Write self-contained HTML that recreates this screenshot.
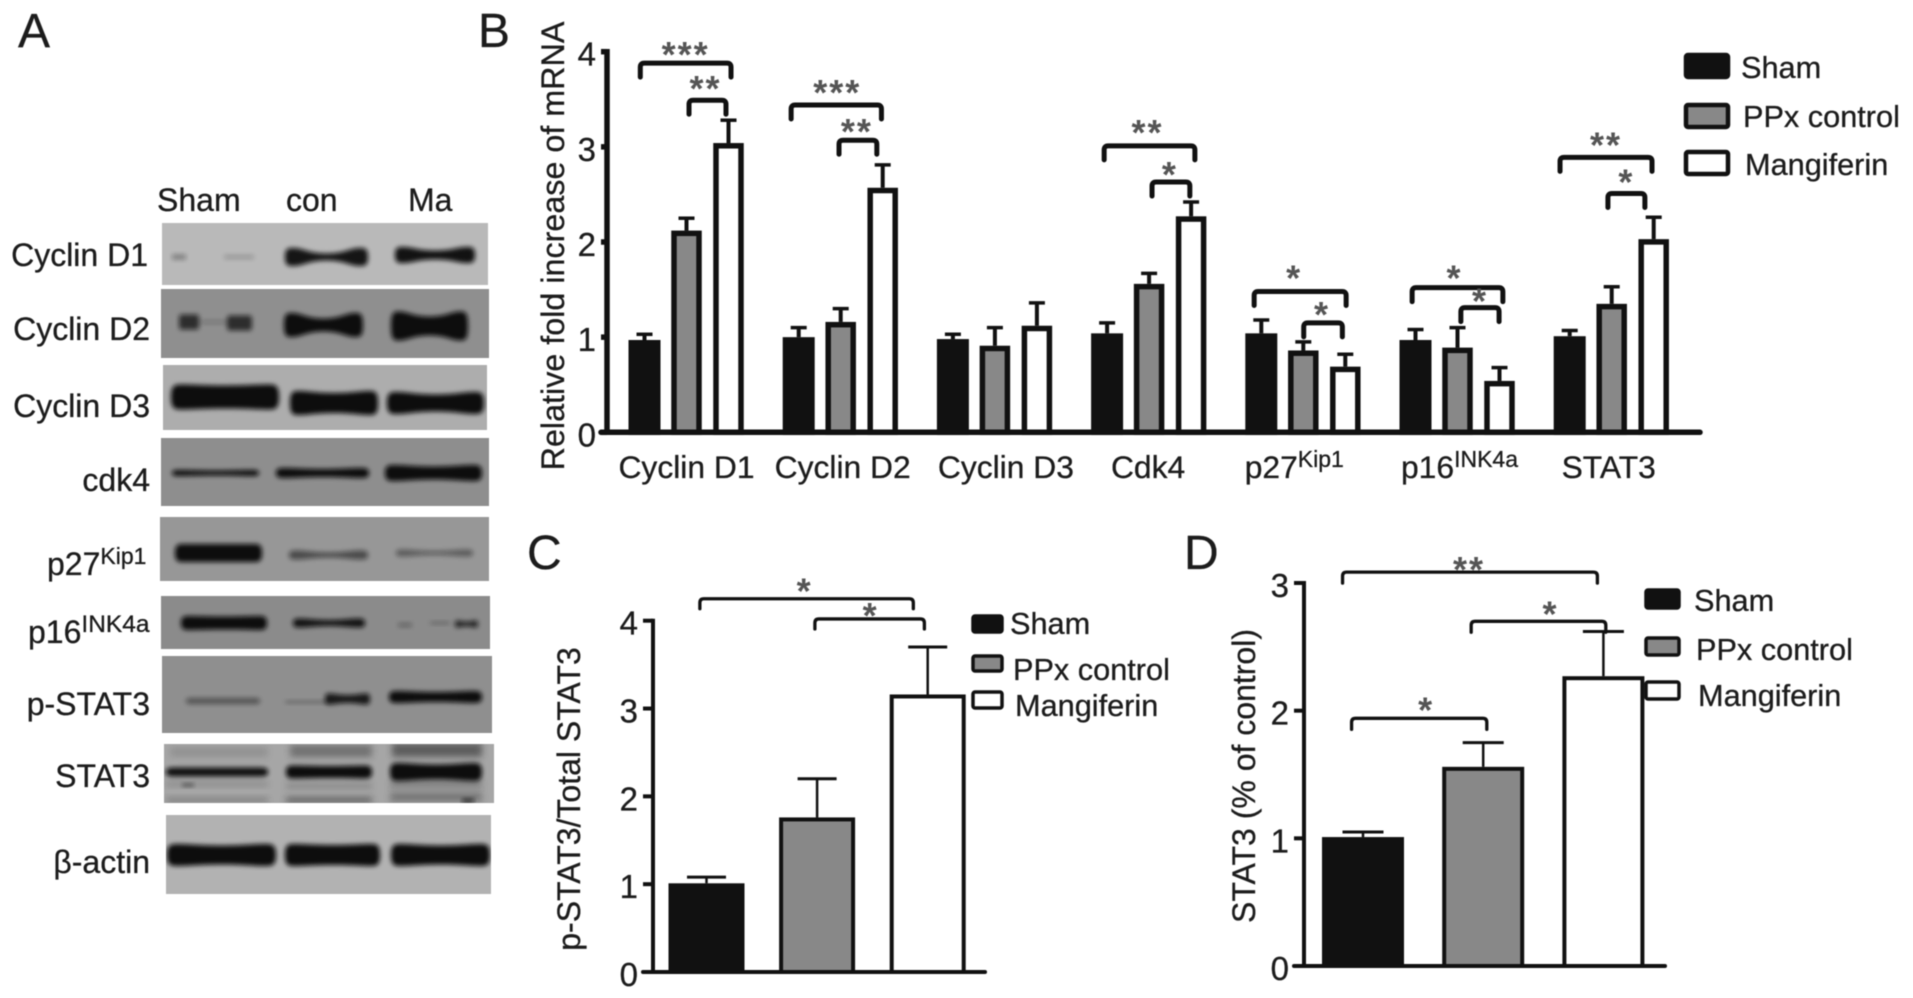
<!DOCTYPE html>
<html lang="en">
<head>
<meta charset="utf-8">
<title>Mangiferin western blot and bar chart figure</title>
<style>
html,body{margin:0;padding:0;background:#fff;width:1913px;height:998px;overflow:hidden}
svg{display:block;filter:blur(0.65px)}
text{font-family:"Liberation Sans",Arial,sans-serif;fill:#1c1c1c;stroke:#1c1c1c;stroke-width:.3px}
.panel{font-size:48px}
.lab{font-size:32px}
.leg{font-size:30.7px}
.tick{font-size:33px;text-anchor:end}
.cat{font-size:31.8px;text-anchor:middle}
.star{font-size:36px;font-weight:bold;letter-spacing:2px;fill:#555;stroke:none;text-anchor:middle}
</style>
</head>
<body>
<svg id="fig" xmlns="http://www.w3.org/2000/svg" width="1913" height="998" viewBox="0 0 1913 998">
<defs>
<filter id="bandBlur" x="-20%" y="-80%" width="140%" height="260%"><feGaussianBlur stdDeviation="2.4"/></filter>
<filter id="smearBlur" x="-20%" y="-80%" width="140%" height="260%"><feGaussianBlur stdDeviation="3.5"/></filter>
</defs>
<rect x="0" y="0" width="1913" height="998" fill="#fff"/>

<text class="panel" x="18" y="47">A</text>
<text class="panel" x="478" y="47">B</text>
<text class="panel" x="527" y="569">C</text>
<text class="panel" x="1184" y="569">D</text>

<g id="blots"></g>

<text class="lab" x="157" y="211">Sham</text>
<text class="lab" x="286" y="211">con</text>
<text class="lab" x="408" y="211">Ma</text>
<text class="lab" x="148" y="266" text-anchor="end">Cyclin D1</text>
<text class="lab" x="150" y="340" text-anchor="end">Cyclin D2</text>
<text class="lab" x="150" y="417" text-anchor="end">Cyclin D3</text>
<text class="lab" x="150" y="491" text-anchor="end">cdk4</text>
<text class="lab" x="47" y="575">p27<tspan font-size="23" dy="-11">Kip1</tspan></text>
<text class="lab" x="28" y="643">p16<tspan font-size="24.5" dy="-11">INK4a</tspan></text>
<text class="lab" x="150" y="715" text-anchor="end">p-STAT3</text>
<text class="lab" x="150" y="787" text-anchor="end">STAT3</text>
<text class="lab" x="150" y="873" text-anchor="end">β-actin</text>

<text class="lab" text-anchor="middle" transform="translate(564,246) rotate(-90)" style="font-size:32.3px">Relative fold increase of mRNA</text>
<text class="lab" text-anchor="middle" transform="translate(580,799) rotate(-90)" style="font-size:32px">p-STAT3/Total STAT3</text>
<text class="lab" text-anchor="middle" transform="translate(1255,776) rotate(-90)" style="font-size:32px">STAT3 (% of control)</text>

<g id="chartB"></g>
<g id="chartC"></g>
<g id="chartD"></g>

<g>
<rect x="1686" y="55" width="42" height="22" rx="2" fill="#111" stroke="#111" stroke-width="4.5"/>
<text class="leg" x="1741" y="78">Sham</text>
<rect x="1686" y="105" width="42" height="22" rx="2" fill="#888" stroke="#111" stroke-width="4.5"/>
<text class="leg" x="1743" y="127">PPx control</text>
<rect x="1686" y="152" width="42" height="22" rx="2" fill="#fff" stroke="#111" stroke-width="4.5"/>
<text class="leg" x="1745" y="175">Mangiferin</text>
</g>
<g>
<rect x="973" y="616" width="29" height="16" rx="2" fill="#111" stroke="#111" stroke-width="3.5"/>
<text class="leg" x="1010" y="634">Sham</text>
<rect x="973" y="656" width="29" height="15" rx="2" fill="#888" stroke="#111" stroke-width="3.5"/>
<text class="leg" x="1013" y="680">PPx control</text>
<rect x="973" y="692" width="29" height="16" rx="2" fill="#fff" stroke="#111" stroke-width="3.5"/>
<text class="leg" x="1015" y="716">Mangiferin</text>
</g>
<g>
<rect x="1646" y="590" width="33" height="18" rx="2" fill="#111" stroke="#111" stroke-width="3.5"/>
<text class="leg" x="1694" y="611">Sham</text>
<rect x="1646" y="638" width="33" height="17" rx="2" fill="#888" stroke="#111" stroke-width="3.5"/>
<text class="leg" x="1696" y="660">PPx control</text>
<rect x="1646" y="682" width="33" height="17" rx="2" fill="#fff" stroke="#111" stroke-width="3.5"/>
<text class="leg" x="1698" y="706">Mangiferin</text>
</g>
</svg>

<script>
// ---------- Chart data ----------
const seriesNames = ['sham', 'ppx-control', 'mangiferin'];
const categoriesB = ['Cyclin D1', 'Cyclin D2', 'Cyclin D3', 'Cdk4', 'p27', 'p16', 'STAT3'];
const categorySupB = ['', '', '', '', 'Kip1', 'INK4a', ''];
const shamB = [0.97, 1.0, 0.98, 1.04, 1.04, 0.97, 1.01];
const ppxB = [2.12, 1.16, 0.91, 1.56, 0.86, 0.89, 1.35];
const mangB = [3.04, 2.57, 1.12, 2.27, 0.69, 0.54, 2.03];
const shamErrB = [0.06, 0.1, 0.05, 0.11, 0.14, 0.11, 0.06];
const ppxErrB = [0.13, 0.14, 0.19, 0.11, 0.09, 0.21, 0.18];
const mangErrB = [0.24, 0.24, 0.24, 0.15, 0.13, 0.14, 0.23];
const ticksB = [0, 1, 2, 3, 4];

// Significance brackets: category index, bar units from/to, height in axis units, stars
const bracketGroupB = [0, 0, 1, 1, 3, 3, 4, 4, 5, 5, 6, 6];
const bracketFromB = [-0.1, 1.06, -0.18, 0.96, -0.07, 1.07, -0.17, 1.01, -0.08, 1.08, -0.23, 0.91];
const bracketToB = [2.06, 1.94, 1.97, 1.86, 2.09, 1.97, 2.02, 1.93, 2.08, 1.99, 1.96, 1.79];
const bracketLevelB = [3.88, 3.49, 3.44, 3.07, 3.01, 2.63, 1.48, 1.15, 1.52, 1.31, 2.89, 2.51];
const bracketStarsB = ['***', '**', '***', '**', '**', '*', '*', '*', '*', '*', '**', '*'];

const valuesC = [1.01, 1.76, 3.16];
const errorsC = [0.07, 0.44, 0.54];
const ticksC = [0, 1, 2, 3, 4];
const bracketFromC = [-0.06, 0.98];
const bracketToC = [1.87, 1.97];
const bracketLevelC = [4.25, 4.02];
const bracketStarsC = ['*', '*'];

const valuesD = [1.01, 1.56, 2.27];
const errorsD = [0.04, 0.19, 0.35];
const ticksD = [0, 1, 2, 3];
const bracketFromD = [-0.17, 0.9, -0.095];
const bracketToD = [1.95, 2.02, 1.03];
const bracketLevelD = [3.085, 2.7, 1.94];
const bracketStarsD = ['**', '*', '*'];

// ---------- Helpers ----------
const NS = 'http://www.w3.org/2000/svg';
function make(tag, attrs, parent) {
  const el = document.createElementNS(NS, tag);
  for (const k in attrs) el.setAttribute(k, attrs[k]);
  parent.appendChild(el);
  return el;
}
function linearY(y0, yTop, max) {
  return function (v) { return y0 - v * (y0 - yTop) / max; };
}
const fills = ['#111', '#888', '#fff'];

function drawBar(g, cx, outerW, v, err, yScale, y0, sw, capW, stemW, capH, idx, name) {
  const top = yScale(v);
  const stem = make('line', { x1: cx, x2: cx, y1: top, y2: yScale(v + err), stroke: '#111', 'stroke-width': stemW }, g);
  
  
  const cap = make('line', { x1: cx - capW / 2, x2: cx + capW / 2, y1: yScale(v + err), y2: yScale(v + err), stroke: '#111', 'stroke-width': capH }, g);
  
  
  const bar = make('rect', { x: cx - outerW / 2 + sw / 2, y: top + sw / 2, width: outerW - sw, height: Math.max(0, y0 - top - sw / 2), fill: fills[idx], stroke: '#111', 'stroke-width': sw }, g);
  
  
}
function drawBracket(g, x1, x2, yt, drop, sw, stars, gap, shift, name) {
  const r = 4;
  const p = make('path', {
    d: 'M' + x1 + ',' + (yt + drop) + ' L' + x1 + ',' + (yt + r) + ' Q' + x1 + ',' + yt + ' ' + (x1 + r) + ',' + yt +
       ' L' + (x2 - r) + ',' + yt + ' Q' + x2 + ',' + yt + ' ' + x2 + ',' + (yt + r) + ' L' + x2 + ',' + (yt + drop),
    fill: 'none', stroke: '#111', 'stroke-width': sw, 'stroke-linecap': 'round'
  }, g);
  
  
  const t = make('text', { x: (x1 + x2) / 2 + shift, y: yt - gap + 17, class: 'star' }, g);
  t.textContent = stars;
  
  
}
function drawAxes(g, axisX, y0, yTop, xStart, xEnd, sw, tickLen, ticks, yScale) {
  const ya = make('line', { x1: axisX, x2: axisX, y1: yTop - sw / 2, y2: y0, stroke: '#111', 'stroke-width': sw }, g);
  
  
  const xa = make('line', { x1: xStart, x2: xEnd, y1: y0, y2: y0, stroke: '#111', 'stroke-width': sw, 'stroke-linecap': 'round' }, g);
  
  
  ticks.forEach(function (tv) {
    const y = yScale(tv);
    const tm = make('line', { x1: axisX - tickLen, x2: axisX, y1: y, y2: y, stroke: '#111', 'stroke-width': sw }, g);
    
    
    const tl = make('text', { x: axisX - tickLen - 5, y: y + 14, class: 'tick' }, g);
    tl.textContent = tv;
    
    
  });
}

// ---------- Chart B ----------
(function () {
  const g = document.getElementById('chartB');
  const y0 = 432.3, yTop = 51.7;
  const yB = linearY(y0, yTop, 4);
  const groupX = function (i) { return 628.5 + 154.2 * i; };
  const barX = function (i, u) { return groupX(i) + 16 + 42 * u; };
  const starGap = [13, 16, 17, 13, 18, 12, 18, 13, 14, 11, 17, 16];
  const starShift = [0, -2, 1, -1, -2, -1, -6, -1, -3, 0, 0, 0];
  const labelShift = [0, 2, 11, -1, -9, 2, -3];
  const valueSets = [shamB, ppxB, mangB];
  const errorSets = [shamErrB, ppxErrB, mangErrB];
  const widths = [32, 30.5, 30.5];
  categoriesB.forEach(function (cat, i) {
    valueSets.forEach(function (vals, s) {
      drawBar(g, barX(i, s), widths[s], vals[i], errorSets[s][i], yB, y0, 5.5, 16, 4, 3.5, s, cat.toLowerCase().replace(' ', '-') + '-' + seriesNames[s]);
    });
    const t = make('text', { x: groupX(i) + 58 + labelShift[i], y: 478, class: 'cat' }, g);
    t.textContent = cat;
    
    
    if (categorySupB[i]) {
      const sup = make('tspan', { dy: -11, 'font-size': 23 }, t);
      sup.textContent = categorySupB[i];
    }
  });
  drawAxes(g, 607, y0, yTop, 601, 1700, 5.5, 6, ticksB, yB);
  bracketGroupB.forEach(function (grp, k) {
    drawBracket(g, barX(grp, bracketFromB[k]), barX(grp, bracketToB[k]), yB(bracketLevelB[k]), 14, 5, bracketStarsB[k], starGap[k], starShift[k], 'b-' + k);
  });
})();

// ---------- Chart C ----------
(function () {
  const g = document.getElementById('chartC');
  const y0 = 972, yTop = 620.7;
  const yC = linearY(y0, yTop, 4);
  const barX = function (u) { return 706.5 + 110.6 * u; };
  const starGap = [12, 8];
  const starShift = [-2, 1];
  valuesC.forEach(function (v, s) {
    drawBar(g, barX(s), 76, v, errorsC[s], yC, y0, 4, 39, 2.5, 3, s, 'c-' + seriesNames[s]);
  });
  drawAxes(g, 653, y0, yTop, 643, 985, 4, 10, ticksC, yC);
  bracketLevelC.forEach(function (lv, k) {
    drawBracket(g, barX(bracketFromC[k]), barX(bracketToC[k]), yC(lv), 10, 3.3, bracketStarsC[k], starGap[k], starShift[k], 'c-' + k);
  });
})();

// ---------- Chart D ----------
(function () {
  const g = document.getElementById('chartD');
  const y0 = 966, yTop = 583;
  const yD = linearY(y0, yTop, 3);
  const barX = function (u) { return 1363 + 120.2 * u; };
  const starGap = [7, 12, 13];
  const starShift = [-1, 12, 7];
  valuesD.forEach(function (v, s) {
    drawBar(g, barX(s), 82, v, errorsD[s], yD, y0, 4, 41, 2.5, 3, s, 'd-' + seriesNames[s]);
  });
  drawAxes(g, 1304, y0, yTop, 1294, 1665, 4, 10, ticksD, yD);
  bracketLevelD.forEach(function (lv, k) {
    drawBracket(g, barX(bracketFromD[k]), barX(bracketToD[k]), yD(lv), 11, 3.3, bracketStarsD[k], starGap[k], starShift[k], 'd-' + k);
  });
})();

// ---------- Panel A: western blot strips ----------
(function () {
  const root = document.getElementById('blots');
  const strips = [
    { name: 'cyclin-d1', x: 162, y: 223, w: 326, h: 62, bg: '#b9b9b9', bands: [[172,186,257,5,5,.35],[224,254,257,4,4,.2],[285,368,257,18,7,.95],[395,475,255,16,9,.97]] },
    { name: 'cyclin-d2', x: 161, y: 289, w: 328, h: 69, bg: '#8f8f8f', bands: [[179,199,322,15,15,.75],[227,252,323,15,15,.75],[199,228,322,4,4,.18],[284,363,325,24,13,1],[391,468,326,29,19,1]] },
    { name: 'cyclin-d3', x: 163, y: 365, w: 324, h: 65, bg: '#adadad', bands: [[171,279,397,25,23,1],[290,378,403,24,20,1],[387,484,403,22,17,1]] },
    { name: 'cdk4', x: 161, y: 438, w: 328, h: 68, bg: '#8e8e8e', bands: [[172,259,473,6,5,1],[276,369,473,10,8,1],[385,482,473,16,13,1]] },
    { name: 'p27', x: 160, y: 517, w: 329, h: 64, bg: '#979797', bands: [[175,262,553,18,18,1],[289,368,555,9,5,.55],[396,473,553,7,4,.42]] },
    { name: 'p16', x: 161, y: 596, w: 329, h: 53, bg: '#8b8b8b', bands: [[181,267,623,14,13,1],[293,365,623,9,6,.95],[398,412,625,4,4,.3],[430,450,623,3,3,.25],[455,478,624,7,5,.8]] },
    { name: 'p-stat3', x: 162, y: 656, w: 330, h: 77, bg: '#8f8f8f', bands: [[186,260,701,6,6,.45],[285,330,702,3,3,.28],[325,370,699,11,8,.9],[389,482,697,12,10,1]] },
    { name: 'stat3', x: 164, y: 744, w: 330, h: 59, bg: '#a6a6a6', smears: [[170,268,752,10,.15],[290,372,751,12,.4],[392,482,750,14,.55],[166,268,800,5,.3],[286,372,800,6,.5],[390,482,797,10,.35],[166,268,784,4,.25],[286,372,786,5,.25],[390,482,784,6,.35]], bands: [[166,268,772,9,9,.97],[286,372,772,13,12,1],[390,482,772,18,15,1],[182,194,785,3,3,.5],[462,474,801,4,4,.8]] },
    { name: 'beta-actin', x: 166, y: 815, w: 325, h: 79, bg: '#b2b2b2', bands: [[167,276,855,22,19,1],[285,380,855,22,20,1],[391,490,855,22,19,1]] }
  ];
  function bandPath(x1, x2, y, he, hm) {
    const a = he / 2, b = hm / 2, L = x2 - x1;
    return 'M' + x1 + ',' + y +
      ' C' + x1 + ',' + (y - a) + ' ' + (x1 + .04 * L) + ',' + (y - a) + ' ' + (x1 + .1 * L) + ',' + (y - a) +
      ' C' + (x1 + .22 * L) + ',' + (y - a) + ' ' + (x1 + .28 * L) + ',' + (y - b) + ' ' + (x1 + .5 * L) + ',' + (y - b) +
      ' C' + (x1 + .72 * L) + ',' + (y - b) + ' ' + (x1 + .78 * L) + ',' + (y - a) + ' ' + (x1 + .9 * L) + ',' + (y - a) +
      ' C' + (x1 + .96 * L) + ',' + (y - a) + ' ' + x2 + ',' + (y - a) + ' ' + x2 + ',' + y +
      ' C' + x2 + ',' + (y + a) + ' ' + (x1 + .96 * L) + ',' + (y + a) + ' ' + (x1 + .9 * L) + ',' + (y + a) +
      ' C' + (x1 + .78 * L) + ',' + (y + a) + ' ' + (x1 + .72 * L) + ',' + (y + b) + ' ' + (x1 + .5 * L) + ',' + (y + b) +
      ' C' + (x1 + .28 * L) + ',' + (y + b) + ' ' + (x1 + .22 * L) + ',' + (y + a) + ' ' + (x1 + .1 * L) + ',' + (y + a) +
      ' C' + (x1 + .04 * L) + ',' + (y + a) + ' ' + x1 + ',' + (y + a) + ' ' + x1 + ',' + y + ' Z';
  }
  strips.forEach(function (st, si) {
    const clipId = 'clip' + si;
    const defs = make('clipPath', { id: clipId }, root);
    make('rect', { x: st.x, y: st.y, width: st.w, height: st.h }, defs);
    const g = make('g', { 'clip-path': 'url(#' + clipId + ')' }, root);
    
    
    const bg = make('rect', { x: st.x, y: st.y, width: st.w, height: st.h, fill: st.bg }, g);
    
    
    (st.smears || []).forEach(function (sm) {
      const r = make('rect', { x: sm[0], y: sm[2] - sm[3] / 2, width: sm[1] - sm[0], height: sm[3], fill: '#222', opacity: sm[4], filter: 'url(#smearBlur)' }, g);
      
      
    });
    st.bands.forEach(function (b) {
      const p = make('path', { d: bandPath(b[0], b[1], b[2], b[3], b[4]), fill: '#0c0c0c', opacity: b[5], filter: 'url(#bandBlur)' }, g);
      
      
    });
  });
})();
</script>
</body>
</html>
